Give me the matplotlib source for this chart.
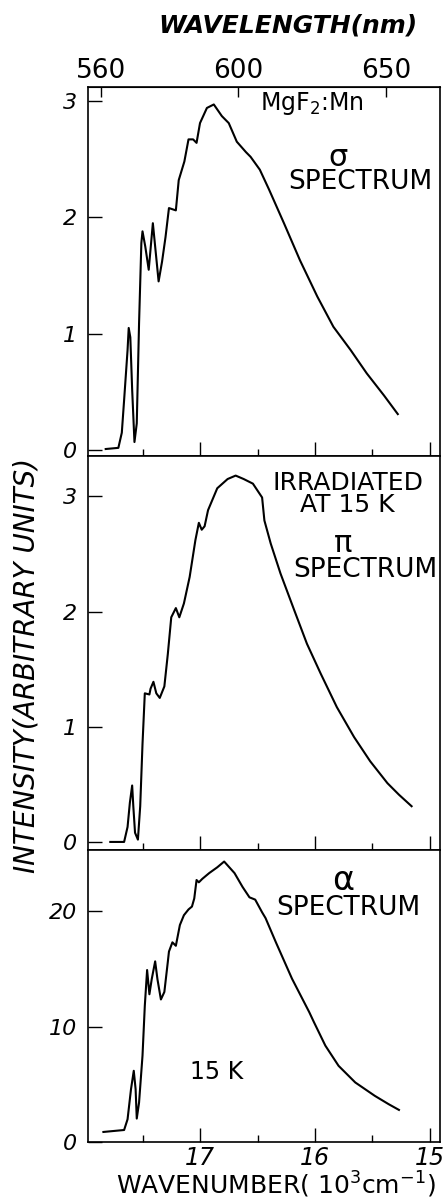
# MgF2:Mn emission spectra at 15 K, three polarizations stacked

import numpy as np
from matplotlib import pyplot as plt
from matplotlib.ticker import FixedLocator

plt.rcParams['font.family'] = ['DejaVu Sans']

# wavenumber in 10^3 cm^-1, intensity in arbitrary units
sigma_wn = [17.82, 17.71, 17.68, 17.66, 17.63, 17.62, 17.606, 17.59, 17.57, 17.55,
            17.53, 17.51, 17.50, 17.476, 17.446, 17.41, 17.39, 17.36, 17.33, 17.30,
            17.27, 17.21, 17.185, 17.136, 17.10, 17.06, 17.03, 17.00, 16.94, 16.88,
            16.81, 16.75, 16.68, 16.60, 16.56, 16.48, 16.40, 16.27, 16.13, 15.98,
            15.84, 15.69, 15.55, 15.40, 15.28]
sigma_int = [0.01, 0.02, 0.15, 0.43, 0.86, 1.05, 0.97, 0.52, 0.07, 0.23,
             1.09, 1.78, 1.88, 1.75, 1.55, 1.95, 1.75, 1.45, 1.62, 1.83,
             2.08, 2.06, 2.32, 2.48, 2.67, 2.67, 2.64, 2.81, 2.94, 2.97,
             2.87, 2.81, 2.65, 2.56, 2.52, 2.41, 2.24, 1.95, 1.63, 1.32,
             1.06, 0.86, 0.66, 0.47, 0.31]

pi_wn = [17.78, 17.66, 17.63, 17.61, 17.59, 17.58, 17.565, 17.54, 17.52, 17.50,
         17.48, 17.44, 17.43, 17.405, 17.38, 17.35, 17.31, 17.28, 17.25, 17.21,
         17.18, 17.14, 17.09, 17.04, 17.01, 16.985, 16.96, 16.93, 16.85, 16.76,
         16.69, 16.62, 16.54, 16.50, 16.46, 16.44, 16.385, 16.30, 16.18, 16.07,
         15.95, 15.81, 15.66, 15.52, 15.37, 15.27, 15.16]
pi_int = [0.00, 0.00, 0.13, 0.34, 0.49, 0.31, 0.08, 0.02, 0.31, 0.85,
          1.29, 1.28, 1.33, 1.39, 1.29, 1.25, 1.35, 1.63, 1.95, 2.03,
          1.95, 2.07, 2.30, 2.62, 2.77, 2.71, 2.74, 2.88, 3.07, 3.15,
          3.18, 3.15, 3.11, 3.05, 2.99, 2.79, 2.59, 2.33, 2.01, 1.72,
          1.46, 1.17, 0.91, 0.70, 0.51, 0.41, 0.31]

alpha_wn = [17.84, 17.66, 17.63, 17.60, 17.576, 17.56, 17.55, 17.53, 17.50, 17.48,
            17.46, 17.44, 17.42, 17.39, 17.37, 17.34, 17.31, 17.28, 17.27, 17.24,
            17.21, 17.175, 17.14, 17.10, 17.07, 17.05, 17.03, 17.01, 16.98, 16.92,
            16.85, 16.79, 16.70, 16.63, 16.57, 16.52, 16.46, 16.43, 16.34, 16.20,
            16.05, 16.01, 15.91, 15.795, 15.65, 15.48, 15.36, 15.27]
alpha_int = [0.87, 1.04, 1.97, 4.58, 6.17, 4.58, 2.03, 3.42, 7.48, 11.8,
             14.9, 12.8, 14.1, 15.65, 14.1, 12.35, 13.0, 15.6, 16.5, 17.3,
             17.0, 18.8, 19.65, 20.15, 20.4, 21.1, 22.7, 22.5, 22.8, 23.3,
             23.8, 24.3, 23.3, 22.1, 21.2, 21.0, 19.9, 19.4, 17.3, 14.15,
             11.25, 10.4, 8.35, 6.6, 5.16, 4.0, 3.28, 2.78]

wl_ticks = [560, 600, 650]
wn_major = [17, 16, 15]
wn_minor = [17.5, 16.5, 15.5]

W, H = 445, 1203
fig = plt.figure(figsize=(W / 100, H / 100), dpi=100)

left, right = 88, 440
def box(top, bottom):
    return [left / W, 1 - bottom / H, (right - left) / W, (bottom - top) / H]

ax1 = fig.add_axes(box(87, 456))
ax2 = fig.add_axes(box(456, 850))
ax3 = fig.add_axes(box(850, 1142))

panels = [
    (ax1, sigma_wn, sigma_int, (-0.05, 3.12), [0, 1, 2, 3]),
    (ax2, pi_wn, pi_int, (-0.07, 3.35), [0, 1, 2, 3]),
    (ax3, alpha_wn, alpha_int, (0, 25.3), [0, 10, 20]),
]

for ax, wn, inten, ylim, yt in panels:
    ax.plot(wn, inten, color='black', lw=1.5)
    ax.set_xlim(17.974, 14.913)
    ax.set_ylim(*ylim)
    ax.set_yticks(yt)
    ax.xaxis.set_major_locator(FixedLocator(wn_major))
    ax.xaxis.set_minor_locator(FixedLocator(wn_minor))
    ax.tick_params(axis='both', which='major', direction='in', length=10, width=1,
                   labelsize=16, pad=8)
    ax.tick_params(axis='x', which='minor', direction='in', length=5, width=1)
    ax.tick_params(axis='x', top=False)
    for s in ax.spines.values():
        s.set_linewidth(1.2)
    for lab in ax.get_yticklabels():
        lab.set_style('italic')
    if ax is not ax3:
        ax.tick_params(axis='x', labelbottom=False)

ax3.set_xticklabels([str(v) for v in wn_major], style='italic')
ax3.tick_params(axis='x', labelsize=17, pad=3)

# wavelength scale on top
sec = ax1.secondary_xaxis('top', functions=(lambda x: 1e4 / x, lambda x: 1e4 / x))
sec.set_xticks(wl_ticks)
sec.tick_params(direction='in', length=7, width=1, labelsize=19, pad=2)

fig.text(288 / W, 1 - 25 / H, 'WAVELENGTH(nm)', ha='center', va='center',
         fontsize=18, fontweight='bold', style='italic')
fig.text(276 / W, 1 - 1185 / H, 'WAVENUMBER( 10$^{3}$cm$^{-1}$)', ha='center',
         va='center', fontsize=18)
fig.text(27 / W, 1 - 665 / H, 'INTENSITY(ARBITRARY UNITS)', ha='center',
         va='center', rotation=90, fontsize=20, style='italic')

# panel labels
ax1.text(0.636, 0.954, 'MgF$_2$:Mn', transform=ax1.transAxes, ha='center',
         va='center', fontsize=17)
ax1.text(0.710, 0.810, 'σ', transform=ax1.transAxes, ha='center', va='center',
         fontsize=22)
ax1.text(0.773, 0.743, 'SPECTRUM', transform=ax1.transAxes, ha='center',
         va='center', fontsize=19)

ax2.text(0.739, 0.931, 'IRRADIATED', transform=ax2.transAxes, ha='center',
         va='center', fontsize=18)
ax2.text(0.736, 0.876, 'AT 15 K', transform=ax2.transAxes, ha='center',
         va='center', fontsize=18)
ax2.text(0.724, 0.779, 'π', transform=ax2.transAxes, ha='center', va='center',
         fontsize=22)
ax2.text(0.787, 0.711, 'SPECTRUM', transform=ax2.transAxes, ha='center',
         va='center', fontsize=19)

ax3.text(0.724, 0.897, 'α', transform=ax3.transAxes, ha='center', va='center',
         fontsize=24)
ax3.text(0.739, 0.801, 'SPECTRUM', transform=ax3.transAxes, ha='center',
         va='center', fontsize=19)
ax3.text(0.364, 0.240, '15 K', transform=ax3.transAxes, ha='center',
         va='center', fontsize=17)

fig.savefig('out.png', dpi=100)
